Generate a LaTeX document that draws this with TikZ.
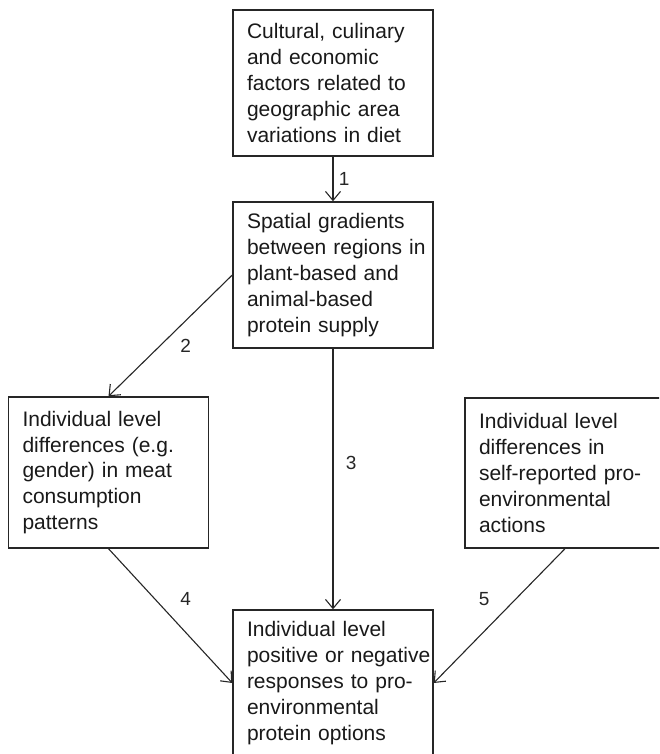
\documentclass[tikz,border=0pt]{standalone}
\usepackage{fontspec}
\setmainfont{Liberation Sans}
\usetikzlibrary{arrows.meta}

\begin{document}
\begin{tikzpicture}[x=1pt, y=1pt, >={Straight Barb[length=9pt,width=15pt]},
    box/.style={draw=black!85, line width=1.4pt, text width=172pt, inner xsep=14pt,
        inner ysep=0pt, align=left, minimum height=146pt,
        font=\fontsize{21}{25.8}\selectfont, text=black!90},
    link/.style={->, line width=1.1pt, draw=black!85},
    num/.style={font=\fontsize{19}{22}\selectfont, text=black!85}]
    \clip (0,0) rectangle (659,754);

    % Box centres
    \coordinate (C) at (333,671);
    \coordinate (S) at (333,479);
    \coordinate (G) at (108.5,281.5);
    \coordinate (A) at (565,281);
    \coordinate (R) at (333,71);

    % Boxes
    \node[box] (culture) at (C) {Cultural, culinary\\and economic\\factors related to\\geographic area\\variations in diet};
    \node[box] (spatial) at (S) {Spatial gradients\\\mbox{between regions in}\\plant-based and\\animal-based\\protein supply};
    \node[box, minimum height=151pt] (gender) at (G) {Individual level\\differences (e.g.\\gender) in meat\\consumption\\patterns};
    \node[box, minimum height=150pt] (actions) at (A) {Individual level\\differences in\\self-reported pro-\\environmental\\actions};
    \node[box] (response) at (R) {Individual level\\\mbox{positive or negative}\\responses to pro-\\environmental\\protein options};

    % Arrows
    \draw[link] (culture) -- (spatial) node[num, midway, right=2pt] {1};
    \draw[link] (spatial.west) -- (gender.north) node[num, midway, below right, xshift=6pt] {2};
    \draw[link] (spatial) -- (response) node[num, pos=0.44, right=9pt] {3};
    \draw[link] (gender.south) -- (response.west) node[num, midway, above right, xshift=6pt, yshift=6pt] {4};
    \draw[link] (actions.south) -- (response.east) node[num, midway, above left, xshift=-6pt, yshift=6pt] {5};
\end{tikzpicture}
\end{document}
